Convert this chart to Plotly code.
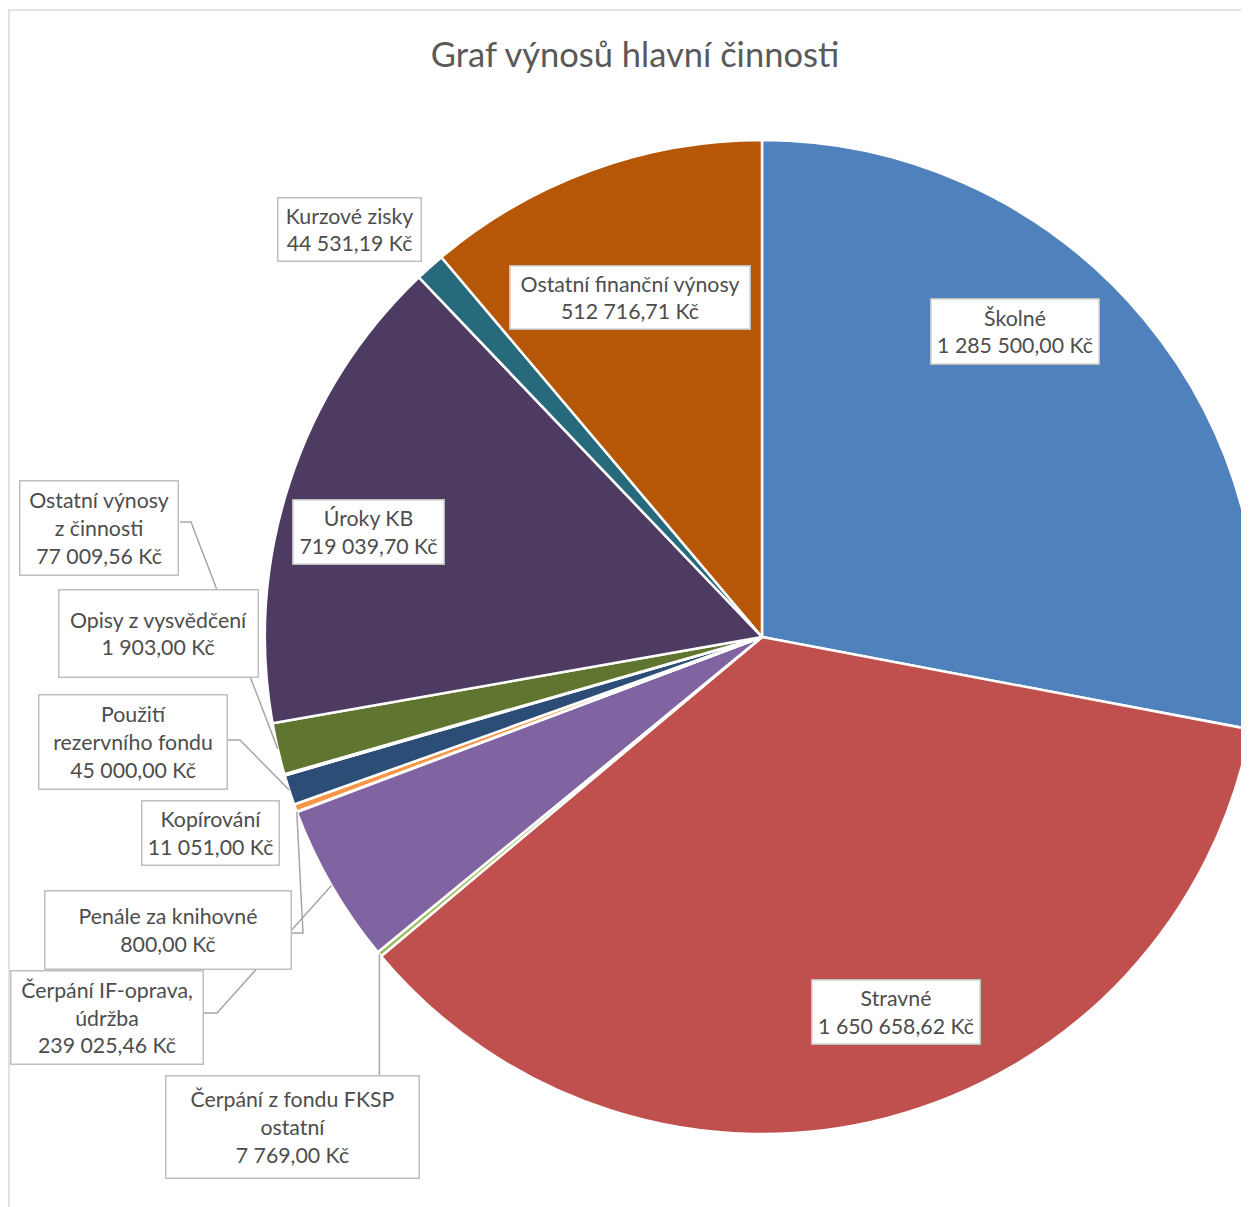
import math
import plotly.graph_objects as go

W, H = 1256, 1207
OFF = 8  # page offset of the plot inside the browser window

categories = [
    "Školné", "Stravné", "Čerpání z fondu FKSP ostatní", "Čerpání IF-oprava, údržba",
    "Penále za knihovné", "Kopírování", "Použití rezervního fondu", "Opisy z vysvědčení",
    "Ostatní výnosy z činnosti", "Úroky KB", "Kurzové zisky", "Ostatní finanční výnosy",
]
values = [
    1285500.00, 1650658.62, 7769.00, 239025.46,
    800.00, 11051.00, 45000.00, 1903.00,
    77009.56, 719039.70, 44531.19, 512716.71,
]
colors = [
    "#4F81BD", "#C0504D", "#9BBB59", "#8064A2",
    "#4BACC6", "#F79646", "#2C4D75", "#772C2A",
    "#5F7530", "#4D3B62", "#276A7C", "#B65708",
]
label_names = [
    "Školné", "Stravné", "Čerpání z fondu FKSP<br>ostatní", "Čerpání IF-oprava,<br>údržba",
    "Penále za knihovné", "Kopírování", "Použití<br>rezervního fondu", "Opisy z vysvědčení",
    "Ostatní výnosy<br>z činnosti", "Úroky KB", "Kurzové zisky", "Ostatní finanční výnosy",
]

# layout geometry (window pixels)
CX, CY, R = 762, 637, 497
# label boxes: centre x, centre y, width, height
boxes = [
    (1015, 331.5, 170, 67),
    (896, 1012, 170, 66),
    (292.5, 1127, 255, 104),
    (107, 1017.5, 194, 95),
    (168, 930, 248, 80),
    (210.5, 833, 139, 66),
    (133, 742, 190, 96),
    (158.5, 633.5, 201, 89),
    (99, 528, 160, 96),
    (368.5, 532, 153, 66),
    (349.5, 229.5, 145, 65),
    (630, 297.5, 242, 65),
]
# leader lines: slice index -> start points (pixels) before the slice edge
leaders = {
    8: [(180, 522), (191, 522)],
    6: [(228, 740), (240, 740)],
    4: [(292, 933), (303, 933)],
    3: [(204, 1013), (217, 1013)],
}


def fx(x):
    return (x - OFF) / W


def fy(y):
    return 1 - (y - OFF) / H


def fmt(v):
    s = f"{v:,.2f}"
    return s.replace(",", " ").replace(".", ",") + " Kč"


total = sum(values)
mid_angles = []
cum = 0.0
for v in values:
    mid_angles.append((cum + v / 2) / total * 2 * math.pi)
    cum += v


def edge(i):
    a = mid_angles[i]
    return CX + R * math.sin(a), CY - R * math.cos(a)


fig = go.Figure()
fig.add_trace(go.Pie(
    labels=categories,
    values=values,
    sort=False,
    direction="clockwise",
    rotation=0,
    textinfo="none",
    hoverinfo="label+value",
    marker=dict(colors=colors, line=dict(color="white", width=2.5)),
    domain=dict(x=[fx(CX - R), fx(CX + R)], y=[fy(CY + R), fy(CY - R)]),
    showlegend=False,
))

shapes = [
    dict(type="rect", xref="paper", yref="paper",
         x0=fx(9), x1=fx(W + 40), y0=fy(H + 60), y1=fy(10),
         line=dict(color="#D9D9D9", width=1.5), fillcolor="rgba(0,0,0,0)", layer="below"),
]
for i, pts in leaders.items():
    ex, ey = edge(i)
    allp = pts + [(ex, ey)]
    path = "M " + " L ".join(f"{fx(x)},{fy(y)}" for x, y in allp)
    shapes.append(dict(type="path", xref="paper", yref="paper", path=path,
                       line=dict(color="#A6A6A6", width=1.5)))
# FKSP vertical leader
ex, ey = edge(2)
shapes.append(dict(type="line", xref="paper", yref="paper",
                   x0=fx(ex), x1=fx(ex), y0=fy(1075), y1=fy(ey),
                   line=dict(color="#A6A6A6", width=1.5)))

annotations = []
for i, (bx, by, bw, bh) in enumerate(boxes):
    annotations.append(dict(
        x=fx(bx), y=fy(by), xref="paper", yref="paper",
        xanchor="center", yanchor="middle",
        text=f"{label_names[i]}<br>{fmt(values[i])}",
        showarrow=False, align="center", valign="middle",
        width=bw - 3, height=bh - 3, borderpad=0,
        bgcolor="white", bordercolor="#BFBFBF", borderwidth=1.5,
        font=dict(family="Lato", size=21.3, color="#4D4D4D"),
    ))

fig.update_layout(
    width=W, height=H,
    margin=dict(l=0, r=0, t=0, b=0),
    paper_bgcolor="white",
    title=dict(text="Graf výnosů hlavní činnosti", x=fx(635), xanchor="center",
               y=fy(55), yanchor="middle",
               font=dict(family="Lato", size=34.5, color="#595959")),
    shapes=shapes,
    annotations=annotations,
)

fig.write_html("out.html")
